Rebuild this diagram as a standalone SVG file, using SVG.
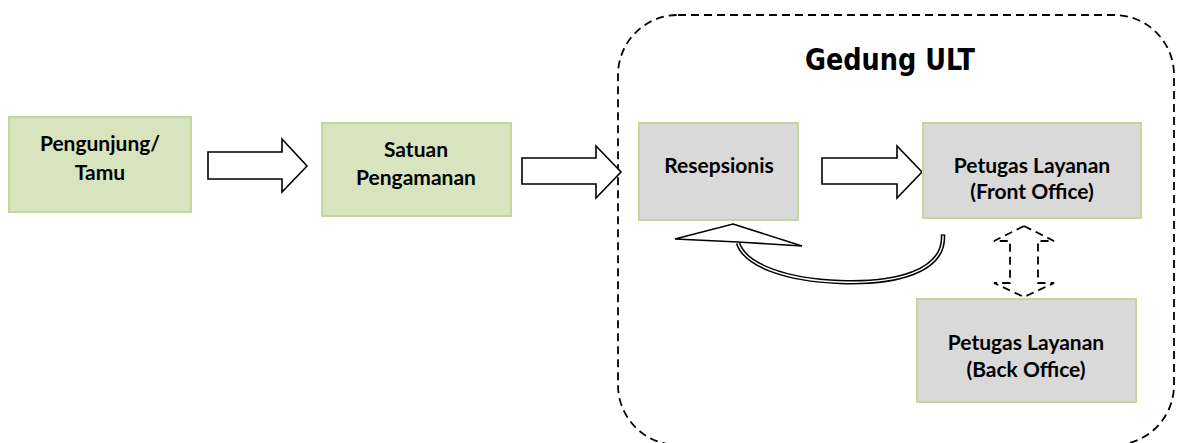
<svg xmlns="http://www.w3.org/2000/svg" width="1177" height="443" viewBox="0 0 1177 443">
  <style>
    .green { fill: #d7e4bd; stroke: #c3d69b; stroke-width: 2; }
    .grey { fill: #d9d9d9; stroke: #c3d69b; stroke-width: 2; }
    .lbl { font-family: Lato, "Open Sans", "Liberation Sans", sans-serif; font-weight: bold; font-size: 21px; fill: #000; text-anchor: middle; }
    .block { fill: #fff; stroke: #000; stroke-width: 1.6; stroke-linejoin: miter; }
    .dash { fill: none; stroke: #000; stroke-width: 1.8; stroke-dasharray: 8 5; }
    .title { font-family: "DejaVu Sans Condensed", "DejaVu Sans", sans-serif; font-weight: bold; font-size: 30px; fill: #000; text-anchor: middle; }
  </style>
  <rect width="1177" height="443" fill="#fff"/>

  <g id="gedung-ult">
    <rect class="dash" x="618" y="15" width="556" height="430" rx="60" ry="60"/>
    <text class="title" x="890" y="70" textLength="170" lengthAdjust="spacingAndGlyphs">Gedung ULT</text>
  </g>

  <g id="connectors">
    <polygon class="block" points="208,152 282,152 282,139 307,166 282,192 282,179 208,179"/>
    <polygon class="block" points="522,158 596,158 596,146 621,172 596,198 596,184 522,184"/>
    <polygon class="block" points="822,158 897,158 897,146 922,172 897,198 897,184 822,184"/>
    <g id="return-arrow">
      <path d="M 943 235 C 945 272 895 284 840 282 C 785 280 745 265 738 243" fill="none" stroke="#000" stroke-width="4.5"/>
      <path d="M 943 235 C 945 272 895 284 840 282 C 785 280 745 265 738 243" fill="none" stroke="#fff" stroke-width="1.4"/>
      <line x1="940.8" y1="235" x2="945.2" y2="235" stroke="#000" stroke-width="1.2"/>
      <polygon class="block" points="733,224 802,246 738,242 675,239"/>
    </g>
    <polygon class="dash" points="1024,226 1054,241 1038,241 1038,283 1054,283 1024,297 994,283 1010,283 1010,241 994,241"/>
  </g>

  <g id="pengunjung">
    <rect class="green" x="9" y="117" width="182" height="95"/>
    <text class="lbl" x="100" y="151">Pengunjung/</text>
    <text class="lbl" x="100" y="180">Tamu</text>
  </g>

  <g id="satpam">
    <rect class="green" x="322" y="123" width="189" height="93"/>
    <text class="lbl" x="416" y="157">Satuan</text>
    <text class="lbl" x="416" y="185">Pengamanan</text>
  </g>

  <g id="resepsionis">
    <rect class="grey" x="639" y="123" width="159" height="97"/>
    <text class="lbl" x="719" y="173">Resepsionis</text>
  </g>

  <g id="front-office">
    <rect class="grey" x="923" y="123" width="218" height="95"/>
    <text class="lbl" x="1032" y="173">Petugas Layanan</text>
    <text class="lbl" x="1032" y="199">(Front Office)</text>
  </g>

  <g id="back-office">
    <rect class="grey" x="917" y="299" width="219" height="103"/>
    <text class="lbl" x="1026" y="350">Petugas Layanan</text>
    <text class="lbl" x="1026" y="377">(Back Office)</text>
  </g>
</svg>
